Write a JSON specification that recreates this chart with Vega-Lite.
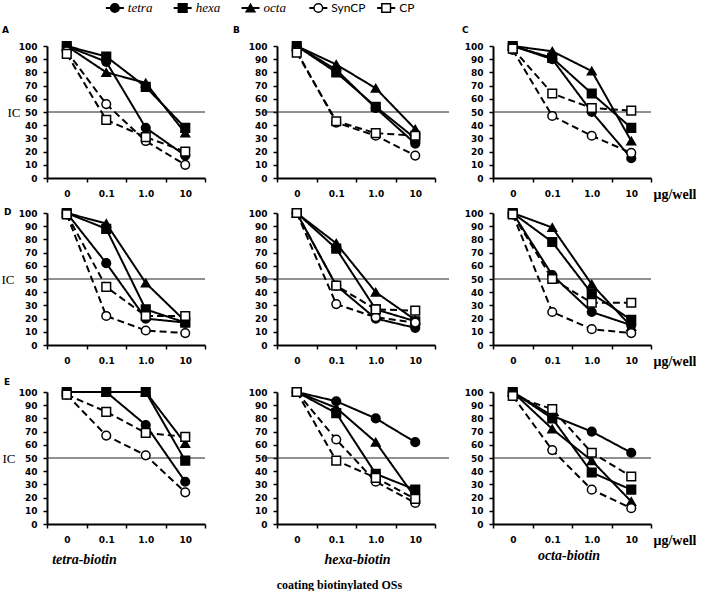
{
"$schema": "https://vega.github.io/schema/vega-lite/v6.json",
"padding": {"left": 1, "top": 0, "right": 0, "bottom": 0},
"datasets": {"d": [
{"p":"A","s":"tetra","c":"0","v":100},{"p":"A","s":"tetra","c":"0.1","v":88},{"p":"A","s":"tetra","c":"1.0","v":38},{"p":"A","s":"tetra","c":"10","v":17},
{"p":"A","s":"hexa","c":"0","v":100},{"p":"A","s":"hexa","c":"0.1","v":92},{"p":"A","s":"hexa","c":"1.0","v":69},{"p":"A","s":"hexa","c":"10","v":38},
{"p":"A","s":"octa","c":"0","v":100},{"p":"A","s":"octa","c":"0.1","v":80},{"p":"A","s":"octa","c":"1.0","v":72},{"p":"A","s":"octa","c":"10","v":34},
{"p":"A","s":"SynCP","c":"0","v":96},{"p":"A","s":"SynCP","c":"0.1","v":56},{"p":"A","s":"SynCP","c":"1.0","v":28},{"p":"A","s":"SynCP","c":"10","v":10},
{"p":"A","s":"CP","c":"0","v":94},{"p":"A","s":"CP","c":"0.1","v":44},{"p":"A","s":"CP","c":"1.0","v":31},{"p":"A","s":"CP","c":"10","v":20},
{"p":"B","s":"tetra","c":"0","v":100},{"p":"B","s":"tetra","c":"0.1","v":82},{"p":"B","s":"tetra","c":"1.0","v":53},{"p":"B","s":"tetra","c":"10","v":26},
{"p":"B","s":"hexa","c":"0","v":100},{"p":"B","s":"hexa","c":"0.1","v":80},{"p":"B","s":"hexa","c":"1.0","v":54},{"p":"B","s":"hexa","c":"10","v":30},
{"p":"B","s":"octa","c":"0","v":100},{"p":"B","s":"octa","c":"0.1","v":86},{"p":"B","s":"octa","c":"1.0","v":68},{"p":"B","s":"octa","c":"10","v":37},
{"p":"B","s":"SynCP","c":"0","v":96},{"p":"B","s":"SynCP","c":"0.1","v":42},{"p":"B","s":"SynCP","c":"1.0","v":32},{"p":"B","s":"SynCP","c":"10","v":17},
{"p":"B","s":"CP","c":"0","v":95},{"p":"B","s":"CP","c":"0.1","v":43},{"p":"B","s":"CP","c":"1.0","v":34},{"p":"B","s":"CP","c":"10","v":32},
{"p":"C","s":"tetra","c":"0","v":100},{"p":"C","s":"tetra","c":"0.1","v":90},{"p":"C","s":"tetra","c":"1.0","v":50},{"p":"C","s":"tetra","c":"10","v":15},
{"p":"C","s":"hexa","c":"0","v":100},{"p":"C","s":"hexa","c":"0.1","v":91},{"p":"C","s":"hexa","c":"1.0","v":64},{"p":"C","s":"hexa","c":"10","v":38},
{"p":"C","s":"octa","c":"0","v":100},{"p":"C","s":"octa","c":"0.1","v":96},{"p":"C","s":"octa","c":"1.0","v":81},{"p":"C","s":"octa","c":"10","v":28},
{"p":"C","s":"SynCP","c":"0","v":97},{"p":"C","s":"SynCP","c":"0.1","v":47},{"p":"C","s":"SynCP","c":"1.0","v":32},{"p":"C","s":"SynCP","c":"10","v":19},
{"p":"C","s":"CP","c":"0","v":98},{"p":"C","s":"CP","c":"0.1","v":64},{"p":"C","s":"CP","c":"1.0","v":53},{"p":"C","s":"CP","c":"10","v":51},
{"p":"D","s":"tetra","c":"0","v":100},{"p":"D","s":"tetra","c":"0.1","v":62},{"p":"D","s":"tetra","c":"1.0","v":20},{"p":"D","s":"tetra","c":"10","v":17},
{"p":"D","s":"hexa","c":"0","v":100},{"p":"D","s":"hexa","c":"0.1","v":88},{"p":"D","s":"hexa","c":"1.0","v":27},{"p":"D","s":"hexa","c":"10","v":17},
{"p":"D","s":"octa","c":"0","v":100},{"p":"D","s":"octa","c":"0.1","v":92},{"p":"D","s":"octa","c":"1.0","v":47},{"p":"D","s":"octa","c":"10","v":18},
{"p":"D","s":"SynCP","c":"0","v":99},{"p":"D","s":"SynCP","c":"0.1","v":22},{"p":"D","s":"SynCP","c":"1.0","v":11},{"p":"D","s":"SynCP","c":"10","v":9},
{"p":"D","s":"CP","c":"0","v":99},{"p":"D","s":"CP","c":"0.1","v":44},{"p":"D","s":"CP","c":"1.0","v":22},{"p":"D","s":"CP","c":"10","v":22},
{"p":"D2","s":"tetra","c":"0","v":100},{"p":"D2","s":"tetra","c":"0.1","v":45},{"p":"D2","s":"tetra","c":"1.0","v":20},{"p":"D2","s":"tetra","c":"10","v":13},
{"p":"D2","s":"hexa","c":"0","v":100},{"p":"D2","s":"hexa","c":"0.1","v":73},{"p":"D2","s":"hexa","c":"1.0","v":27},{"p":"D2","s":"hexa","c":"10","v":18},
{"p":"D2","s":"octa","c":"0","v":100},{"p":"D2","s":"octa","c":"0.1","v":77},{"p":"D2","s":"octa","c":"1.0","v":40},{"p":"D2","s":"octa","c":"10","v":19},
{"p":"D2","s":"SynCP","c":"0","v":100},{"p":"D2","s":"SynCP","c":"0.1","v":31},{"p":"D2","s":"SynCP","c":"1.0","v":21},{"p":"D2","s":"SynCP","c":"10","v":17},
{"p":"D2","s":"CP","c":"0","v":100},{"p":"D2","s":"CP","c":"0.1","v":45},{"p":"D2","s":"CP","c":"1.0","v":27},{"p":"D2","s":"CP","c":"10","v":26},
{"p":"D3","s":"tetra","c":"0","v":100},{"p":"D3","s":"tetra","c":"0.1","v":53},{"p":"D3","s":"tetra","c":"1.0","v":25},{"p":"D3","s":"tetra","c":"10","v":15},
{"p":"D3","s":"hexa","c":"0","v":100},{"p":"D3","s":"hexa","c":"0.1","v":78},{"p":"D3","s":"hexa","c":"1.0","v":39},{"p":"D3","s":"hexa","c":"10","v":19},
{"p":"D3","s":"octa","c":"0","v":100},{"p":"D3","s":"octa","c":"0.1","v":89},{"p":"D3","s":"octa","c":"1.0","v":46},{"p":"D3","s":"octa","c":"10","v":14},
{"p":"D3","s":"SynCP","c":"0","v":99},{"p":"D3","s":"SynCP","c":"0.1","v":25},{"p":"D3","s":"SynCP","c":"1.0","v":12},{"p":"D3","s":"SynCP","c":"10","v":9},
{"p":"D3","s":"CP","c":"0","v":99},{"p":"D3","s":"CP","c":"0.1","v":50},{"p":"D3","s":"CP","c":"1.0","v":32},{"p":"D3","s":"CP","c":"10","v":32},
{"p":"E","s":"tetra","c":"0","v":100},{"p":"E","s":"tetra","c":"0.1","v":100},{"p":"E","s":"tetra","c":"1.0","v":75},{"p":"E","s":"tetra","c":"10","v":32},
{"p":"E","s":"hexa","c":"0","v":100},{"p":"E","s":"hexa","c":"0.1","v":100},{"p":"E","s":"hexa","c":"1.0","v":100},{"p":"E","s":"hexa","c":"10","v":48},
{"p":"E","s":"octa","c":"0","v":100},{"p":"E","s":"octa","c":"0.1","v":100},{"p":"E","s":"octa","c":"1.0","v":100},{"p":"E","s":"octa","c":"10","v":61},
{"p":"E","s":"SynCP","c":"0","v":98},{"p":"E","s":"SynCP","c":"0.1","v":67},{"p":"E","s":"SynCP","c":"1.0","v":52},{"p":"E","s":"SynCP","c":"10","v":24},
{"p":"E","s":"CP","c":"0","v":98},{"p":"E","s":"CP","c":"0.1","v":85},{"p":"E","s":"CP","c":"1.0","v":69},{"p":"E","s":"CP","c":"10","v":66},
{"p":"E2","s":"tetra","c":"0","v":100},{"p":"E2","s":"tetra","c":"0.1","v":93},{"p":"E2","s":"tetra","c":"1.0","v":80},{"p":"E2","s":"tetra","c":"10","v":62},
{"p":"E2","s":"hexa","c":"0","v":100},{"p":"E2","s":"hexa","c":"0.1","v":84},{"p":"E2","s":"hexa","c":"1.0","v":38},{"p":"E2","s":"hexa","c":"10","v":26},
{"p":"E2","s":"octa","c":"0","v":100},{"p":"E2","s":"octa","c":"0.1","v":88},{"p":"E2","s":"octa","c":"1.0","v":62},{"p":"E2","s":"octa","c":"10","v":20},
{"p":"E2","s":"SynCP","c":"0","v":100},{"p":"E2","s":"SynCP","c":"0.1","v":64},{"p":"E2","s":"SynCP","c":"1.0","v":32},{"p":"E2","s":"SynCP","c":"10","v":16},
{"p":"E2","s":"CP","c":"0","v":100},{"p":"E2","s":"CP","c":"0.1","v":48},{"p":"E2","s":"CP","c":"1.0","v":35},{"p":"E2","s":"CP","c":"10","v":19},
{"p":"E3","s":"tetra","c":"0","v":100},{"p":"E3","s":"tetra","c":"0.1","v":82},{"p":"E3","s":"tetra","c":"1.0","v":70},{"p":"E3","s":"tetra","c":"10","v":54},
{"p":"E3","s":"hexa","c":"0","v":100},{"p":"E3","s":"hexa","c":"0.1","v":80},{"p":"E3","s":"hexa","c":"1.0","v":39},{"p":"E3","s":"hexa","c":"10","v":26},
{"p":"E3","s":"octa","c":"0","v":100},{"p":"E3","s":"octa","c":"0.1","v":72},{"p":"E3","s":"octa","c":"1.0","v":48},{"p":"E3","s":"octa","c":"10","v":17},
{"p":"E3","s":"SynCP","c":"0","v":97},{"p":"E3","s":"SynCP","c":"0.1","v":56},{"p":"E3","s":"SynCP","c":"1.0","v":26},{"p":"E3","s":"SynCP","c":"10","v":12},
{"p":"E3","s":"CP","c":"0","v":97},{"p":"E3","s":"CP","c":"0.1","v":87},{"p":"E3","s":"CP","c":"1.0","v":54},{"p":"E3","s":"CP","c":"10","v":36}
]},
"title": {"text": "coating biotinylated OSs", "orient": "bottom", "anchor": "middle", "dx": -9, "offset": 14, "font": "Liberation Serif", "fontSize": 12, "fontWeight": "bold", "color": "black"},
"spacing": 9,
"vconcat": [
{
 "width": 407, "height": 12,
 "data": {"values": [{"s":"tetra"},{"s":"hexa"},{"s":"octa"},{"s":"SynCP"},{"s":"CP"}]},
 "encoding": {
  "x": {"field":"s","type":"nominal","sort":["tetra","hexa","octa","SynCP","CP"],"scale":{"type":"point","padding":1.49},"axis":null},
  "y": {"datum":"k","type":"nominal","axis":null}
 },
 "layer": [
  {"mark":{"type":"rule","color":"black","strokeWidth":2,"xOffset":-9,"x2Offset":9},"encoding":{"x2":{"field":"s"}}},
  {"mark":{"type":"point"},"encoding":{
    "shape":{"field":"s","type":"nominal","scale":{"domain":["tetra","hexa","octa","SynCP","CP"],"range":["circle","square","triangle-up","circle","square"]}},
    "fill":{"field":"s","type":"nominal","scale":{"domain":["tetra","hexa","octa","SynCP","CP"],"range":["black","black","black","white","white"]}}}},
  {"transform":[{"filter":"datum.s == 'tetra' || datum.s == 'hexa' || datum.s == 'octa'"}],"mark":{"type":"text","align":"left","dx":13,"font":"Liberation Serif","fontStyle":"italic","fontSize":13,"color":"black"},"encoding":{"text":{"field":"s"}}},
  {"transform":[{"filter":"datum.s == 'SynCP' || datum.s == 'CP'"}],"mark":{"type":"text","align":"left","dx":13,"font":"Lato","fontSize":12,"color":"black"},"encoding":{"text":{"field":"s"}}}
 ]
},
{
 "columns": 3,
 "bounds": "flush",
 "spacing": {"row": 35, "column": 58},
 "concat": [
 {
  "width": 158, "height": 132,
  "title": {"text":"A","anchor":"start","frame":"group","dx":-45,"offset":4,"font":"DejaVu Sans","fontSize":9,"fontWeight":"bold"},
  "layer": [
   {"data":{"values":[{"ic":50}]},"mark":{"type":"rule","color":"#222222","strokeWidth":1,"x2Offset":32},"encoding":{"y":{"field":"ic","type":"quantitative","scale":{"domain":[0,100],"nice":false},"axis":{"values":[0,10,20,30,40,50,60,70,80,90,100],"labelOverlap":false,"title":"IC","titleAngle":0,"titleAlign":"right","titleBaseline":"middle","titleX":-27,"titleY":66,"titleFont":"Liberation Serif","titleFontSize":13,"titleFontWeight":"normal"}}}},
   {"data":{"name":"d"},"transform":[{"filter":"datum.p == 'A'"}],"mark":"line","encoding":{
     "x":{"field":"c","type":"ordinal","sort":["0","0.1","1.0","10"],"scale":{"type":"band","paddingInner":0,"paddingOuter":0},"axis":{"title":null}},
     "y":{"field":"v","type":"quantitative","scale":{"domain":[0,100],"nice":false},"axis":{"values":[0,10,20,30,40,50,60,70,80,90,100],"labelOverlap":false,"title":"IC","titleAngle":0,"titleAlign":"right","titleBaseline":"middle","titleX":-27,"titleY":66,"titleFont":"Liberation Serif","titleFontSize":13,"titleFontWeight":"normal"}},
     "strokeDash":{"field":"s","type":"nominal","scale":{"domain":["tetra","hexa","octa","SynCP","CP"],"range":[[1,0],[1,0],[1,0],[7,4],[7,4]]}}}},
   {"data":{"name":"d"},"transform":[{"filter":"datum.p == 'A'"}],"mark":"point","encoding":{
     "x":{"field":"c","type":"ordinal","sort":["0","0.1","1.0","10"],"scale":{"type":"band","paddingInner":0,"paddingOuter":0},"axis":{"title":null}},
     "y":{"field":"v","type":"quantitative","scale":{"domain":[0,100],"nice":false},"axis":{"values":[0,10,20,30,40,50,60,70,80,90,100],"labelOverlap":false,"title":"IC","titleAngle":0,"titleAlign":"right","titleBaseline":"middle","titleX":-27,"titleY":66,"titleFont":"Liberation Serif","titleFontSize":13,"titleFontWeight":"normal"}},
     "shape":{"field":"s","type":"nominal","scale":{"domain":["tetra","hexa","octa","SynCP","CP"],"range":["circle","square","triangle-up","circle","square"]}},
     "fill":{"field":"s","type":"nominal","scale":{"domain":["tetra","hexa","octa","SynCP","CP"],"range":["black","black","black","white","white"]}}}}
  ]
 },
 {
  "width": 172, "height": 132,
  "title": {"text":"B","anchor":"start","frame":"group","dx":-30,"offset":4,"font":"DejaVu Sans","fontSize":9,"fontWeight":"bold"},
  "layer": [
   {"data":{"values":[{"ic":50}]},"mark":{"type":"rule","color":"#222222","strokeWidth":1,"xOffset":14,"x2Offset":2},"encoding":{"y":{"field":"ic","type":"quantitative","scale":{"domain":[0,100],"nice":false},"axis":{"values":[0,10,20,30,40,50,60,70,80,90,100],"labelOverlap":false,"title":null,"offset":-14}}}},
   {"data":{"name":"d"},"transform":[{"filter":"datum.p == 'B'"}],"mark":"line","encoding":{
     "x":{"field":"c","type":"ordinal","sort":["0","0.1","1.0","10"],"scale":{"type":"band","paddingInner":0,"paddingOuter":0,"range":[14,172]},"axis":{"title":null}},
     "y":{"field":"v","type":"quantitative","scale":{"domain":[0,100],"nice":false},"axis":{"values":[0,10,20,30,40,50,60,70,80,90,100],"labelOverlap":false,"title":null,"offset":-14}},
     "strokeDash":{"field":"s","type":"nominal","scale":{"domain":["tetra","hexa","octa","SynCP","CP"],"range":[[1,0],[1,0],[1,0],[7,4],[7,4]]}}}},
   {"data":{"name":"d"},"transform":[{"filter":"datum.p == 'B'"}],"mark":"point","encoding":{
     "x":{"field":"c","type":"ordinal","sort":["0","0.1","1.0","10"],"scale":{"type":"band","paddingInner":0,"paddingOuter":0,"range":[14,172]},"axis":{"title":null}},
     "y":{"field":"v","type":"quantitative","scale":{"domain":[0,100],"nice":false},"axis":{"values":[0,10,20,30,40,50,60,70,80,90,100],"labelOverlap":false,"title":null,"offset":-14}},
     "shape":{"field":"s","type":"nominal","scale":{"domain":["tetra","hexa","octa","SynCP","CP"],"range":["circle","square","triangle-up","circle","square"]}},
     "fill":{"field":"s","type":"nominal","scale":{"domain":["tetra","hexa","octa","SynCP","CP"],"range":["black","black","black","white","white"]}}}}
  ]
 },
 {
  "width": 158, "height": 132,
  "title": {"text":"C","anchor":"start","frame":"group","dx":-31,"offset":4,"font":"DejaVu Sans","fontSize":9,"fontWeight":"bold"},
  "layer": [
   {"data":{"values":[{"ic":50}]},"mark":{"type":"rule","color":"#222222","strokeWidth":1,"x2Offset":-1},"encoding":{"y":{"field":"ic","type":"quantitative","scale":{"domain":[0,100],"nice":false},"axis":{"values":[0,10,20,30,40,50,60,70,80,90,100],"labelOverlap":false,"title":null}}}},
   {"data":{"name":"d"},"transform":[{"filter":"datum.p == 'C'"}],"mark":"line","encoding":{
     "x":{"field":"c","type":"ordinal","sort":["0","0.1","1.0","10"],"scale":{"type":"band","paddingInner":0,"paddingOuter":0},"axis":{"title":"μg/well","titleX":160,"titleY":16,"titleAlign":"left","titleBaseline":"middle","titleFont":"Liberation Serif","titleFontSize":14,"titleFontWeight":"bold"}},
     "y":{"field":"v","type":"quantitative","scale":{"domain":[0,100],"nice":false},"axis":{"values":[0,10,20,30,40,50,60,70,80,90,100],"labelOverlap":false,"title":null}},
     "strokeDash":{"field":"s","type":"nominal","scale":{"domain":["tetra","hexa","octa","SynCP","CP"],"range":[[1,0],[1,0],[1,0],[7,4],[7,4]]}}}},
   {"data":{"name":"d"},"transform":[{"filter":"datum.p == 'C'"}],"mark":"point","encoding":{
     "x":{"field":"c","type":"ordinal","sort":["0","0.1","1.0","10"],"scale":{"type":"band","paddingInner":0,"paddingOuter":0},"axis":{"title":"μg/well","titleX":160,"titleY":16,"titleAlign":"left","titleBaseline":"middle","titleFont":"Liberation Serif","titleFontSize":14,"titleFontWeight":"bold"}},
     "y":{"field":"v","type":"quantitative","scale":{"domain":[0,100],"nice":false},"axis":{"values":[0,10,20,30,40,50,60,70,80,90,100],"labelOverlap":false,"title":null}},
     "shape":{"field":"s","type":"nominal","scale":{"domain":["tetra","hexa","octa","SynCP","CP"],"range":["circle","square","triangle-up","circle","square"]}},
     "fill":{"field":"s","type":"nominal","scale":{"domain":["tetra","hexa","octa","SynCP","CP"],"range":["black","black","black","white","white"]}}}}
  ]
 },
 {
  "width": 158, "height": 132,
  "title": {"text":"D","anchor":"start","frame":"group","dx":-43,"dy":15,"offset":4,"font":"DejaVu Sans","fontSize":9,"fontWeight":"bold"},
  "layer": [
   {"data":{"values":[{"ic":50}]},"mark":{"type":"rule","color":"#222222","strokeWidth":1,"x2Offset":-3},"encoding":{"y":{"field":"ic","type":"quantitative","scale":{"domain":[0,100],"nice":false},"axis":{"values":[0,10,20,30,40,50,60,70,80,90,100],"labelOverlap":false,"title":"IC","titleAngle":0,"titleAlign":"right","titleBaseline":"middle","titleX":-33,"titleY":66,"titleFont":"Liberation Serif","titleFontSize":13,"titleFontWeight":"normal"}}}},
   {"data":{"name":"d"},"transform":[{"filter":"datum.p == 'D'"}],"mark":"line","encoding":{
     "x":{"field":"c","type":"ordinal","sort":["0","0.1","1.0","10"],"scale":{"type":"band","paddingInner":0,"paddingOuter":0},"axis":{"title":null}},
     "y":{"field":"v","type":"quantitative","scale":{"domain":[0,100],"nice":false},"axis":{"values":[0,10,20,30,40,50,60,70,80,90,100],"labelOverlap":false,"title":"IC","titleAngle":0,"titleAlign":"right","titleBaseline":"middle","titleX":-33,"titleY":66,"titleFont":"Liberation Serif","titleFontSize":13,"titleFontWeight":"normal"}},
     "strokeDash":{"field":"s","type":"nominal","scale":{"domain":["tetra","hexa","octa","SynCP","CP"],"range":[[1,0],[1,0],[1,0],[7,4],[7,4]]}}}},
   {"data":{"name":"d"},"transform":[{"filter":"datum.p == 'D'"}],"mark":"point","encoding":{
     "x":{"field":"c","type":"ordinal","sort":["0","0.1","1.0","10"],"scale":{"type":"band","paddingInner":0,"paddingOuter":0},"axis":{"title":null}},
     "y":{"field":"v","type":"quantitative","scale":{"domain":[0,100],"nice":false},"axis":{"values":[0,10,20,30,40,50,60,70,80,90,100],"labelOverlap":false,"title":"IC","titleAngle":0,"titleAlign":"right","titleBaseline":"middle","titleX":-33,"titleY":66,"titleFont":"Liberation Serif","titleFontSize":13,"titleFontWeight":"normal"}},
     "shape":{"field":"s","type":"nominal","scale":{"domain":["tetra","hexa","octa","SynCP","CP"],"range":["circle","square","triangle-up","circle","square"]}},
     "fill":{"field":"s","type":"nominal","scale":{"domain":["tetra","hexa","octa","SynCP","CP"],"range":["black","black","black","white","white"]}}}}
  ]
 },
 {
  "width": 172, "height": 132,
  "layer": [
   {"data":{"values":[{"ic":50}]},"mark":{"type":"rule","color":"#222222","strokeWidth":1,"xOffset":14,"x2Offset":-1},"encoding":{"y":{"field":"ic","type":"quantitative","scale":{"domain":[0,100],"nice":false},"axis":{"values":[0,10,20,30,40,50,60,70,80,90,100],"labelOverlap":false,"title":null,"offset":-14}}}},
   {"data":{"name":"d"},"transform":[{"filter":"datum.p == 'D2'"}],"mark":"line","encoding":{
     "x":{"field":"c","type":"ordinal","sort":["0","0.1","1.0","10"],"scale":{"type":"band","paddingInner":0,"paddingOuter":0,"range":[14,172]},"axis":{"title":null}},
     "y":{"field":"v","type":"quantitative","scale":{"domain":[0,100],"nice":false},"axis":{"values":[0,10,20,30,40,50,60,70,80,90,100],"labelOverlap":false,"title":null,"offset":-14}},
     "strokeDash":{"field":"s","type":"nominal","scale":{"domain":["tetra","hexa","octa","SynCP","CP"],"range":[[1,0],[1,0],[1,0],[7,4],[7,4]]}}}},
   {"data":{"name":"d"},"transform":[{"filter":"datum.p == 'D2'"}],"mark":"point","encoding":{
     "x":{"field":"c","type":"ordinal","sort":["0","0.1","1.0","10"],"scale":{"type":"band","paddingInner":0,"paddingOuter":0,"range":[14,172]},"axis":{"title":null}},
     "y":{"field":"v","type":"quantitative","scale":{"domain":[0,100],"nice":false},"axis":{"values":[0,10,20,30,40,50,60,70,80,90,100],"labelOverlap":false,"title":null,"offset":-14}},
     "shape":{"field":"s","type":"nominal","scale":{"domain":["tetra","hexa","octa","SynCP","CP"],"range":["circle","square","triangle-up","circle","square"]}},
     "fill":{"field":"s","type":"nominal","scale":{"domain":["tetra","hexa","octa","SynCP","CP"],"range":["black","black","black","white","white"]}}}}
  ]
 },
 {
  "width": 158, "height": 132,
  "layer": [
   {"data":{"values":[{"ic":50}]},"mark":{"type":"rule","color":"#222222","strokeWidth":1,"x2Offset":-3},"encoding":{"y":{"field":"ic","type":"quantitative","scale":{"domain":[0,100],"nice":false},"axis":{"values":[0,10,20,30,40,50,60,70,80,90,100],"labelOverlap":false,"title":null}}}},
   {"data":{"name":"d"},"transform":[{"filter":"datum.p == 'D3'"}],"mark":"line","encoding":{
     "x":{"field":"c","type":"ordinal","sort":["0","0.1","1.0","10"],"scale":{"type":"band","paddingInner":0,"paddingOuter":0},"axis":{"title":"μg/well","titleX":160,"titleY":16,"titleAlign":"left","titleBaseline":"middle","titleFont":"Liberation Serif","titleFontSize":14,"titleFontWeight":"bold"}},
     "y":{"field":"v","type":"quantitative","scale":{"domain":[0,100],"nice":false},"axis":{"values":[0,10,20,30,40,50,60,70,80,90,100],"labelOverlap":false,"title":null}},
     "strokeDash":{"field":"s","type":"nominal","scale":{"domain":["tetra","hexa","octa","SynCP","CP"],"range":[[1,0],[1,0],[1,0],[7,4],[7,4]]}}}},
   {"data":{"name":"d"},"transform":[{"filter":"datum.p == 'D3'"}],"mark":"point","encoding":{
     "x":{"field":"c","type":"ordinal","sort":["0","0.1","1.0","10"],"scale":{"type":"band","paddingInner":0,"paddingOuter":0},"axis":{"title":"μg/well","titleX":160,"titleY":16,"titleAlign":"left","titleBaseline":"middle","titleFont":"Liberation Serif","titleFontSize":14,"titleFontWeight":"bold"}},
     "y":{"field":"v","type":"quantitative","scale":{"domain":[0,100],"nice":false},"axis":{"values":[0,10,20,30,40,50,60,70,80,90,100],"labelOverlap":false,"title":null}},
     "shape":{"field":"s","type":"nominal","scale":{"domain":["tetra","hexa","octa","SynCP","CP"],"range":["circle","square","triangle-up","circle","square"]}},
     "fill":{"field":"s","type":"nominal","scale":{"domain":["tetra","hexa","octa","SynCP","CP"],"range":["black","black","black","white","white"]}}}}
  ]
 },
 {
  "width": 158, "height": 144,
  "title": {"text":"E","anchor":"start","frame":"group","dx":-43,"dy":11,"offset":4,"font":"DejaVu Sans","fontSize":9,"fontWeight":"bold"},
  "layer": [
   {"data":{"values":[{"ic":50}]},"mark":{"type":"rule","color":"#222222","strokeWidth":1,"x2Offset":-6},"encoding":{"y":{"field":"ic","type":"quantitative","scale":{"domain":[0,100],"nice":false,"range":[144,12]},"axis":{"values":[0,10,20,30,40,50,60,70,80,90,100],"labelOverlap":false,"title":"IC","titleAngle":0,"titleAlign":"right","titleBaseline":"middle","titleX":-32,"titleY":78,"titleFont":"Liberation Serif","titleFontSize":13,"titleFontWeight":"normal"}}}},
   {"data":{"name":"d"},"transform":[{"filter":"datum.p == 'E'"}],"mark":"line","encoding":{
     "x":{"field":"c","type":"ordinal","sort":["0","0.1","1.0","10"],"scale":{"type":"band","paddingInner":0,"paddingOuter":0},"axis":{"title":"tetra-biotin","titleX":37,"titleY":35,"titleAlign":"center","titleBaseline":"middle","titleFont":"Liberation Serif","titleFontSize":14,"titleFontWeight":"bold","titleFontStyle":"italic"}},
     "y":{"field":"v","type":"quantitative","scale":{"domain":[0,100],"nice":false,"range":[144,12]},"axis":{"values":[0,10,20,30,40,50,60,70,80,90,100],"labelOverlap":false,"title":"IC","titleAngle":0,"titleAlign":"right","titleBaseline":"middle","titleX":-32,"titleY":78,"titleFont":"Liberation Serif","titleFontSize":13,"titleFontWeight":"normal"}},
     "strokeDash":{"field":"s","type":"nominal","scale":{"domain":["tetra","hexa","octa","SynCP","CP"],"range":[[1,0],[1,0],[1,0],[7,4],[7,4]]}}}},
   {"data":{"name":"d"},"transform":[{"filter":"datum.p == 'E'"}],"mark":"point","encoding":{
     "x":{"field":"c","type":"ordinal","sort":["0","0.1","1.0","10"],"scale":{"type":"band","paddingInner":0,"paddingOuter":0},"axis":{"title":"tetra-biotin","titleX":37,"titleY":35,"titleAlign":"center","titleBaseline":"middle","titleFont":"Liberation Serif","titleFontSize":14,"titleFontWeight":"bold","titleFontStyle":"italic"}},
     "y":{"field":"v","type":"quantitative","scale":{"domain":[0,100],"nice":false,"range":[144,12]},"axis":{"values":[0,10,20,30,40,50,60,70,80,90,100],"labelOverlap":false,"title":"IC","titleAngle":0,"titleAlign":"right","titleBaseline":"middle","titleX":-32,"titleY":78,"titleFont":"Liberation Serif","titleFontSize":13,"titleFontWeight":"normal"}},
     "shape":{"field":"s","type":"nominal","scale":{"domain":["tetra","hexa","octa","SynCP","CP"],"range":["circle","square","triangle-up","circle","square"]}},
     "fill":{"field":"s","type":"nominal","scale":{"domain":["tetra","hexa","octa","SynCP","CP"],"range":["black","black","black","white","white"]}}}}
  ]
 },
 {
  "width": 172, "height": 144,
  "layer": [
   {"data":{"values":[{"ic":50}]},"mark":{"type":"rule","color":"#222222","strokeWidth":1,"xOffset":14,"x2Offset":5},"encoding":{"y":{"field":"ic","type":"quantitative","scale":{"domain":[0,100],"nice":false,"range":[144,12]},"axis":{"values":[0,10,20,30,40,50,60,70,80,90,100],"labelOverlap":false,"title":null,"offset":-14}}}},
   {"data":{"name":"d"},"transform":[{"filter":"datum.p == 'E2'"}],"mark":"line","encoding":{
     "x":{"field":"c","type":"ordinal","sort":["0","0.1","1.0","10"],"scale":{"type":"band","paddingInner":0,"paddingOuter":0,"range":[14,172]},"axis":{"title":"hexa-biotin","titleX":94,"titleY":35,"titleAlign":"center","titleBaseline":"middle","titleFont":"Liberation Serif","titleFontSize":14,"titleFontWeight":"bold","titleFontStyle":"italic"}},
     "y":{"field":"v","type":"quantitative","scale":{"domain":[0,100],"nice":false,"range":[144,12]},"axis":{"values":[0,10,20,30,40,50,60,70,80,90,100],"labelOverlap":false,"title":null,"offset":-14}},
     "strokeDash":{"field":"s","type":"nominal","scale":{"domain":["tetra","hexa","octa","SynCP","CP"],"range":[[1,0],[1,0],[1,0],[7,4],[7,4]]}}}},
   {"data":{"name":"d"},"transform":[{"filter":"datum.p == 'E2'"}],"mark":"point","encoding":{
     "x":{"field":"c","type":"ordinal","sort":["0","0.1","1.0","10"],"scale":{"type":"band","paddingInner":0,"paddingOuter":0,"range":[14,172]},"axis":{"title":"hexa-biotin","titleX":94,"titleY":35,"titleAlign":"center","titleBaseline":"middle","titleFont":"Liberation Serif","titleFontSize":14,"titleFontWeight":"bold","titleFontStyle":"italic"}},
     "y":{"field":"v","type":"quantitative","scale":{"domain":[0,100],"nice":false,"range":[144,12]},"axis":{"values":[0,10,20,30,40,50,60,70,80,90,100],"labelOverlap":false,"title":null,"offset":-14}},
     "shape":{"field":"s","type":"nominal","scale":{"domain":["tetra","hexa","octa","SynCP","CP"],"range":["circle","square","triangle-up","circle","square"]}},
     "fill":{"field":"s","type":"nominal","scale":{"domain":["tetra","hexa","octa","SynCP","CP"],"range":["black","black","black","white","white"]}}}}
  ]
 },
 {
  "width": 158, "height": 144,
  "title": {"text":"octa-biotin","orient":"bottom","anchor":"middle","frame":"group","dx":-3,"offset":2,"font":"Liberation Serif","fontSize":14,"fontWeight":"bold","fontStyle":"italic"},
  "layer": [
   {"data":{"values":[{"ic":50}]},"mark":{"type":"rule","color":"#222222","strokeWidth":1,"x2Offset":7},"encoding":{"y":{"field":"ic","type":"quantitative","scale":{"domain":[0,100],"nice":false,"range":[144,12]},"axis":{"values":[0,10,20,30,40,50,60,70,80,90,100],"labelOverlap":false,"title":null}}}},
   {"data":{"name":"d"},"transform":[{"filter":"datum.p == 'E3'"}],"mark":"line","encoding":{
     "x":{"field":"c","type":"ordinal","sort":["0","0.1","1.0","10"],"scale":{"type":"band","paddingInner":0,"paddingOuter":0},"axis":{"title":"μg/well","titleX":160,"titleY":16,"titleAlign":"left","titleBaseline":"middle","titleFont":"Liberation Serif","titleFontSize":14,"titleFontWeight":"bold"}},
     "y":{"field":"v","type":"quantitative","scale":{"domain":[0,100],"nice":false,"range":[144,12]},"axis":{"values":[0,10,20,30,40,50,60,70,80,90,100],"labelOverlap":false,"title":null}},
     "strokeDash":{"field":"s","type":"nominal","scale":{"domain":["tetra","hexa","octa","SynCP","CP"],"range":[[1,0],[1,0],[1,0],[7,4],[7,4]]}}}},
   {"data":{"name":"d"},"transform":[{"filter":"datum.p == 'E3'"}],"mark":"point","encoding":{
     "x":{"field":"c","type":"ordinal","sort":["0","0.1","1.0","10"],"scale":{"type":"band","paddingInner":0,"paddingOuter":0},"axis":{"title":"μg/well","titleX":160,"titleY":16,"titleAlign":"left","titleBaseline":"middle","titleFont":"Liberation Serif","titleFontSize":14,"titleFontWeight":"bold"}},
     "y":{"field":"v","type":"quantitative","scale":{"domain":[0,100],"nice":false,"range":[144,12]},"axis":{"values":[0,10,20,30,40,50,60,70,80,90,100],"labelOverlap":false,"title":null}},
     "shape":{"field":"s","type":"nominal","scale":{"domain":["tetra","hexa","octa","SynCP","CP"],"range":["circle","square","triangle-up","circle","square"]}},
     "fill":{"field":"s","type":"nominal","scale":{"domain":["tetra","hexa","octa","SynCP","CP"],"range":["black","black","black","white","white"]}}}}
  ]
 }
 ]
}
],
"config": {
 "view": {"stroke": null},
 "legend": {"disable": true},
 "axis": {"grid": false, "domain": true, "ticks": true, "domainColor": "black", "domainWidth": 2, "domainOpacity": 1, "tickColor": "black", "tickWidth": 1.5, "tickOpacity": 1, "tickSize": 4, "labelFont": "DejaVu Sans", "labelFontSize": 9, "labelFontWeight": "bold", "labelColor": "black", "labelOverlap": false, "titleColor": "black", "zindex": 1},
 "axisX": {"tickBand": "extent", "labelAngle": 0, "labelPadding": 7},
 "axisY": {"labelPadding": 6, "labelOverlap": false},
 "point": {"filled": true, "opacity": 1, "size": 75, "stroke": "black", "strokeWidth": 1.5},
 "line": {"strokeWidth": 2, "color": "black"},
 "title": {"color": "black"}
}
}
